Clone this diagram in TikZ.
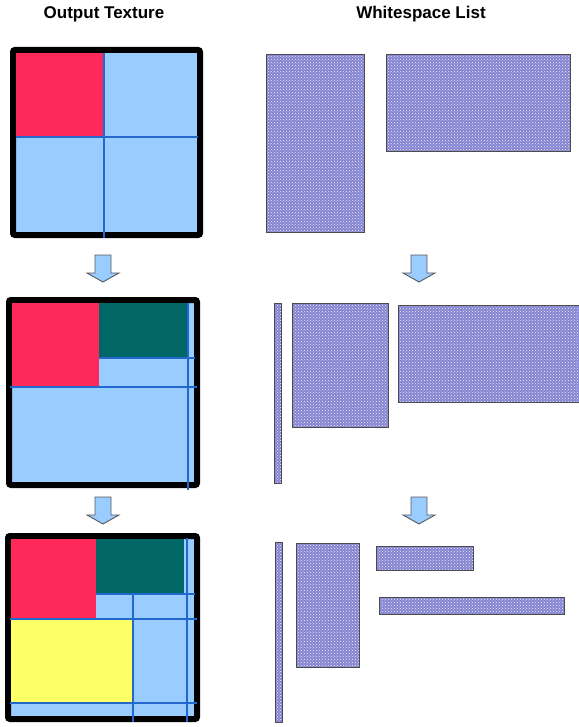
\documentclass[tikz,border=0pt]{standalone}
\usepackage{fontspec}
\setmainfont{Liberation Sans}
\usepackage{tikz}
\usetikzlibrary{positioning,calc,patterns}
\definecolor{freeblue}{RGB}{153,204,255}
\definecolor{splitblue}{RGB}{35,105,205}
\definecolor{usedred}{RGB}{255,41,89}
\definecolor{usedteal}{RGB}{0,102,102}
\definecolor{usedyellow}{RGB}{255,255,102}
\definecolor{wsblue}{RGB}{132,132,210}
\tikzset{
	title/.style={font=\fontsize{17}{20}\selectfont\bfseries,anchor=center},
	texture/.style={draw=black,line width=6pt,fill=freeblue,rounded corners=2pt},
	packed/.style={rectangle,inner sep=0pt,outer sep=0pt,anchor=north west},
	redbox/.style={packed,fill=usedred},
	tealbox/.style={packed,fill=usedteal},
	yellowbox/.style={packed,fill=usedyellow},
	splitline/.style={draw=splitblue,line width=2pt},
	wsrect/.style={packed,draw=black!70,line width=0.9pt,
		preaction={fill=wsblue},pattern=crosshatch dots,pattern color=white!85!wsblue},
	downarrow/.pic={
		\draw[draw=black!65,line width=0.9pt,fill=freeblue,line join=miter]
			(-8,0) -- (8,0) -- (8,18) -- (16,18) -- (0,27) -- (-16,18) -- (-8,18) -- cycle;
	},
}

\begin{document}
\begin{tikzpicture}[x=1pt,y=-1pt]
	\useasboundingbox (0,0) rectangle (578,727);
	
	% Titles
	\node[title] (texttl) at (104,14) {Output Texture};
	\node[title] (listttl) at (421,14) {Whitespace List};
	
	% Step 1: texture
	\draw[texture] (13,50) rectangle (200,235);
	\node[redbox,minimum width=87pt,minimum height=84pt] (red1) at (16,53) {};
	\draw[splitline] (104,53) -- (104,238);
	\draw[splitline] (16,137) -- (198,137);
	
	% Step 1: whitespace list
	\node[wsrect,minimum width=98pt,minimum height=178pt] (ws1a) at (266,54) {};
	\node[wsrect,minimum width=184pt,minimum height=97pt] (ws1b) at (386,54) {};
	
	% Arrows
	\pic (arr1) at (103,255) {downarrow};
	\pic (arr2) at (419,255) {downarrow};
	
	% Step 2: texture
	\draw[texture] (9,300) rectangle (197,485);
	\node[redbox,minimum width=87pt,minimum height=84pt] (red2) at (12,303) {};
	\node[tealbox,minimum width=88pt,minimum height=55pt] (teal2) at (99,303) {};
	\draw[splitline] (99,358) -- (195,358);
	\draw[splitline] (10,387) -- (197,387);
	\draw[splitline] (188,303) -- (188,490);
	
	% Step 2: whitespace list
	\node[wsrect,minimum width=7pt,minimum height=180pt] (ws2a) at (274,303) {};
	\node[wsrect,minimum width=96pt,minimum height=124pt] (ws2b) at (292,303) {};
	\node[wsrect,minimum width=184pt,minimum height=97pt] (ws2c) at (398,305) {};
	
	% Arrows
	\pic (arr3) at (103,497) {downarrow};
	\pic (arr4) at (419,497) {downarrow};
	
	% Step 3: texture
	\draw[texture] (8,536) rectangle (197,719);
	\node[redbox,minimum width=85pt,minimum height=80pt] (red3) at (11,539) {};
	\node[tealbox,minimum width=88pt,minimum height=55pt] (teal3) at (96,539) {};
	\node[yellowbox,minimum width=121pt,minimum height=82pt] (yellow3) at (11,620) {};
	\draw[splitline] (96,594) -- (195,594);
	\draw[splitline] (10,619) -- (197,619);
	\draw[splitline] (10,703) -- (197,703);
	\draw[splitline] (133,595) -- (133,722);
	\draw[splitline] (187,538) -- (187,722);
	
	% Step 3: whitespace list
	\node[wsrect,minimum width=7pt,minimum height=180pt] (ws3a) at (275,542) {};
	\node[wsrect,minimum width=63pt,minimum height=124pt] (ws3b) at (296,543) {};
	\node[wsrect,minimum width=97pt,minimum height=24pt] (ws3c) at (376,546) {};
	\node[wsrect,minimum width=185pt,minimum height=17pt] (ws3d) at (379,597) {};
\end{tikzpicture}
\end{document}
